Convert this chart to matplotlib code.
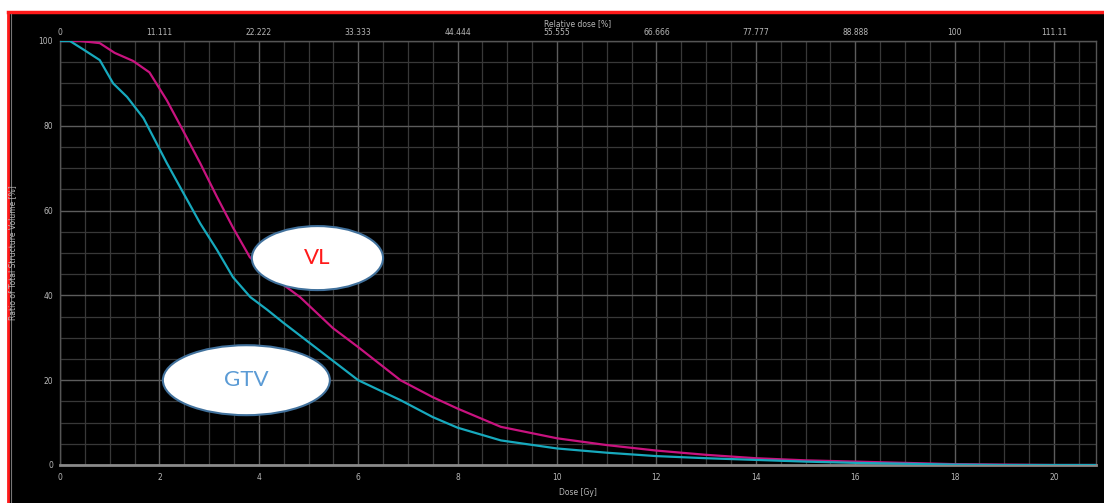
#!/usr/bin/env python3
"""DVH: VL vs GTV, dark planning-system style."""
import matplotlib
matplotlib.use("Agg")
import matplotlib.pyplot as plt
import matplotlib.ticker as ticker
from matplotlib.patches import Ellipse, Rectangle
from matplotlib.lines import Line2D

# --- data ---
dose_vl = [0, 0.4, 0.8, 1.1, 1.47, 1.8, 2.15, 2.47, 2.82, 3.16, 3.48, 3.82,
           4.17, 4.83, 5.49, 6.0, 6.85, 7.5, 8.0, 8.87, 10, 11, 12, 13, 14,
           15, 16, 17, 18, 19, 20, 20.85]
vol_vl = [100, 100, 99.5, 97.2, 95.3, 92.6, 86, 79, 71.2, 63.2, 56, 49,
          45.3, 39.6, 32.3, 27.8, 20, 16, 13.3, 9.0, 6.3, 4.7, 3.4, 2.4, 1.6,
          1.1, 0.8, 0.5, 0.2, 0.1, 0, 0]

dose_gtv = [0, 0.2, 0.47, 0.8, 1.07, 1.35, 1.68, 2.15, 2.48, 2.82, 3.16,
            3.48, 3.83, 4.17, 4.5, 5.0, 5.5, 6.0, 6.85, 7.5, 8.0, 8.87, 10,
            11, 12, 13, 14, 15, 16, 17, 18, 19, 20.85]
vol_gtv = [100, 100, 98, 95.5, 90, 86.8, 81.8, 71.2, 64.2, 57, 50.7,
           44.3, 39.6, 36.6, 33.5, 29, 24.5, 20, 15.3, 11.3, 8.8, 5.8, 3.9,
           2.9, 2.1, 1.6, 1.2, 0.8, 0.5, 0.3, 0.1, 0, 0]

rel_ticks = [0, 11.111, 22.222, 33.333, 44.444, 55.555, 66.666, 77.777,
             88.888, 100, 111.11]
rel_labels = ["0", "11.111", "22.222", "33.333", "44.444", "55.555",
              "66.666", "77.777", "88.888", "100", "111.11"]
ref_dose = 18.0  # 100 % relative dose

W, H = 1104, 503
fig = plt.figure(figsize=(W / 100, H / 100), dpi=100)
fig.patch.set_facecolor("white")

# black panel with red frame (left + top)
fig.patches.append(Rectangle((8 / W, 0), 1, (H - 12) / H, transform=fig.transFigure,
                             facecolor="black", edgecolor="none", zorder=-5))
fig.lines.append(Line2D([8 / W, 8 / W], [0, (H - 12) / H], transform=fig.transFigure,
                        color="#ff1a1a", lw=2, zorder=-4))
fig.lines.append(Line2D([8 / W, 1], [(H - 12) / H, (H - 12) / H], transform=fig.transFigure,
                        color="#ff1a1a", lw=2.5, zorder=-4))
fig.lines.append(Line2D([10.5 / W, 10.5 / W], [0, (H - 14) / H], transform=fig.transFigure,
                        color="#777777", lw=0.8, zorder=-4))

ax = fig.add_axes([60 / W, 38 / H, 1036 / W, 424 / H])
ax.set_facecolor("black")
ax.set_xlim(0, 1036 / 49.7)
ax.set_ylim(0, 100)

ax.xaxis.set_major_locator(ticker.MultipleLocator(2))
ax.xaxis.set_minor_locator(ticker.MultipleLocator(0.5))
ax.yaxis.set_major_locator(ticker.MultipleLocator(20))
ax.yaxis.set_minor_locator(ticker.MultipleLocator(5))
ax.grid(True, which="major", color="#5c5c5c", lw=1.0)
ax.grid(True, which="minor", color="#383838", lw=0.9)
ax.set_axisbelow(True)

for side in ["top", "right", "left"]:
    ax.spines[side].set_color("#555555")
    ax.spines[side].set_linewidth(1.0)
ax.spines["bottom"].set_color("#8a8a8a")
ax.spines["bottom"].set_linewidth(2.0)

ax.tick_params(which="both", length=0, colors="#b8b8b8", labelsize=5.5)
ax.tick_params(axis="x", pad=6)
ax.tick_params(axis="y", pad=5)

ax.plot(dose_vl, vol_vl, color="#c8137f", lw=1.6, zorder=3)
ax.plot(dose_gtv, vol_gtv, color="#17a9bd", lw=1.6, zorder=3)

ax.set_xlabel("Dose [Gy]", color="#b8b8b8", fontsize=5.5)
ax.xaxis.set_label_coords(0.5, -0.055)
ax.set_ylabel("Ratio of Total Structure Volume [%]", color="#b8b8b8", fontsize=5.5)
ax.yaxis.set_label_coords(-0.041, 0.5)

top = ax.secondary_xaxis("top", functions=(lambda d: d / ref_dose * 100,
                                           lambda r: r * ref_dose / 100))
top.set_xticks(rel_ticks)
top.set_xticklabels(rel_labels)
top.tick_params(length=0, colors="#b8b8b8", labelsize=5.5, pad=3)
top.spines["top"].set_visible(False)
top.set_xlabel("Relative dose [%]", color="#b8b8b8", fontsize=5.5, labelpad=1)

# callout labels
for (cx, cy, w, h), txt, col in [((5.18, 48.8, 2.64, 15.1), "VL", "#ff1a1a"),
                                 ((3.75, 20.0, 3.36, 16.5), "GTV", "#5b9bd5")]:
    ax.add_patch(Ellipse((cx, cy), w, h, facecolor="white", edgecolor="#41719c",
                         lw=1.5, zorder=5))
    ax.text(cx, cy, txt, color=col, fontsize=16, ha="center", va="center",
            family=["Lato", "DejaVu Sans"], zorder=6)

fig.savefig("out.png", dpi=100, facecolor=fig.get_facecolor())
print("Saved out.png")
